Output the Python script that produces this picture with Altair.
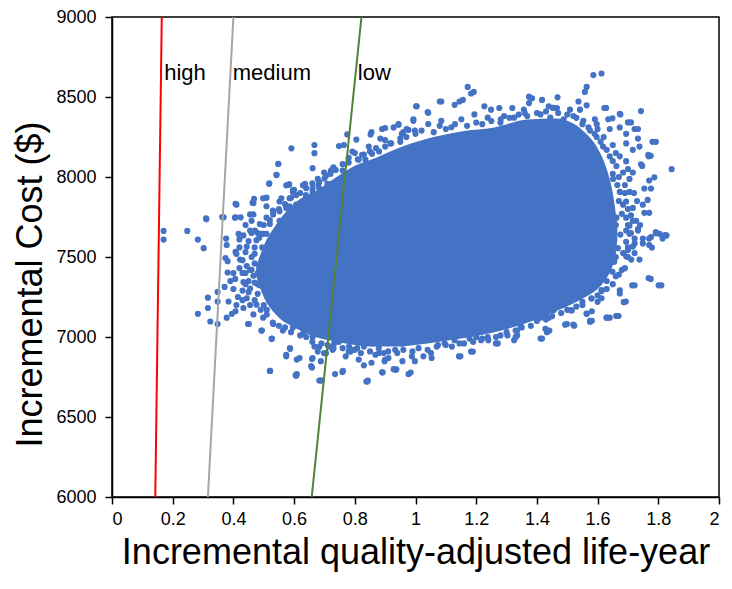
import altair as alt
import pandas as pd

# ---- willingness-to-pay threshold lines (endpoints at y=6000 and y=9000)
thr_name = ["high", "high", "medium", "medium", "low", "low"]
thr_x = [0.1426, 0.164, 0.316, 0.400, 0.658, 0.822]
thr_y = [6000, 9000, 6000, 9000, 6000, 9000]
thr_domain = ["high", "medium", "low"]
thr_colors = ["#FF0000", "#A6A6A6", "#548235"]

label_text = ["high", "medium", "low"]
label_x = [0.172, 0.398, 0.810]
label_y = [8607, 8607, 8607]

# ---- dense core of the simulation cloud (solid blue region), lower/upper bounds
core_x = [0.475, 0.50, 0.54, 0.61, 0.67, 0.74, 0.80, 0.87, 0.93, 1.04, 1.15, 1.26, 1.37, 1.46, 1.52, 1.56, 1.60, 1.63, 1.65, 1.665]
core_hi = [7440, 7570, 7700, 7850, 7910, 8000, 8070, 8120, 8170, 8240, 8285, 8310, 8360, 8365, 8335, 8275, 8180, 8050, 7900, 7700]
core_lo = [7380, 7250, 7140, 7050, 7000, 6970, 6950, 6940, 6940, 6960, 6990, 7030, 7090, 7160, 7210, 7250, 7300, 7370, 7450, 7600]

# ---- individual simulation points around the core (QALY, cost)
pts_left = [
    (0.170, 7663), (0.170, 7609), (0.248, 7663), (0.283, 7609), (0.302, 7555), (0.310, 7742),
    (0.407, 7833), (0.368, 7748), (0.407, 7748), (0.424, 7748), (0.591, 8179), (0.667, 8200),
    (0.667, 8149), (0.548, 8081), (0.542, 8014), (0.518, 7960), (0.584, 7954), (0.509, 7871),
    (0.468, 7863), (0.463, 7839), (0.316, 7246), (0.316, 7181), (0.283, 7145), (0.324, 7097),
    (0.348, 7081), (0.348, 7282), (0.348, 7222), (0.384, 7222), (0.378, 7121), (0.395, 7145),
    (0.407, 7161), (0.371, 7313), (0.406, 7363), (0.381, 7403), (0.374, 7494), (0.381, 7474),
    (0.407, 7532), (0.376, 7615), (0.378, 7575), (0.417, 7645), (0.433, 7635), (0.448, 7081),
    (0.494, 7040), (0.526, 6988), (0.520, 6788), (0.605, 6762), (0.587, 6926), (0.574, 6879),
    (0.609, 6859), (0.659, 6863), (0.659, 6809), (0.683, 6728), (0.735, 6768), (0.759, 6782),
    (0.830, 6823), (0.841, 6722), (0.890, 6779), (0.683, 6939), (0.705, 6899), (0.727, 6920),
    (0.770, 6879), (0.792, 6920), (0.813, 6859), (0.830, 6980), (0.900, 6859), (0.928, 6799),
    (0.311, 7736), (0.363, 7750), (0.410, 7827), (0.405, 7746), (0.451, 7081), (0.492, 7040),
    (0.527, 6990), (0.574, 6889), (0.586, 6930), (0.609, 6768), (0.521, 6788),
]
pts_left_fill = [
    (0.466, 7766), (0.487, 7706), (0.455, 7665), (0.476, 7605), (0.444, 7565), (0.422, 7484),
    (0.444, 7444), (0.466, 7383), (0.433, 7343), (0.455, 7303), (0.444, 7242), (0.476, 7202),
    (0.433, 7181), (0.466, 7141), (0.498, 7121), (0.531, 7081), (0.563, 7040), (0.596, 7060),
    (0.629, 7020), (0.661, 7000), (0.509, 7746), (0.531, 7786), (0.552, 7726), (0.574, 7807),
    (0.498, 7645), (0.520, 7565), (0.542, 7484), (0.509, 7403), (0.487, 7323), (0.520, 7242),
    (0.552, 7161), (0.585, 7121), (0.618, 7101), (0.552, 7847), (0.585, 7867), (0.607, 7827),
    (0.639, 7887), (0.661, 7928), (0.683, 7968), (0.705, 8008), (0.727, 8049), (0.629, 7948),
    (0.596, 7907), (0.470, 7520), (0.455, 7420), (0.490, 7460), (0.480, 7270), (0.430, 7290),
    (0.420, 7560), (0.440, 7700), (0.430, 7400), (0.415, 7250), (0.400, 7300), (0.455, 7200),
    (0.480, 7400), (0.495, 7560), (0.485, 7620), (0.470, 7340), (0.500, 7200), (0.510, 7170),
]
pts_upper_left = [
    (0.548, 8083), (0.542, 8012), (0.518, 7958), (0.583, 7952), (0.574, 7948), (0.636, 7958),
    (0.661, 8055), (0.699, 8028), (0.721, 8038), (0.737, 8044), (0.748, 8194), (0.764, 8200),
    (0.775, 8266), (0.805, 8234), (0.792, 8159), (0.846, 8190), (0.855, 8280), (0.852, 8266),
    (0.884, 8240), (0.890, 8300), (0.900, 8306), (0.928, 8310), (0.944, 8327), (0.917, 8210),
    (0.960, 8280), (0.977, 8294), (0.993, 8351), (1.002, 8442), (1.040, 8406), (1.080, 8472),
    (0.824, 8139), (0.813, 8109), (0.835, 8109), (0.857, 8145), (0.498, 7867), (0.509, 7817),
    (0.466, 7837), (0.455, 7766), (0.460, 7726), (0.471, 7665), (0.493, 7645), (0.552, 7786),
    (0.531, 7766), (0.585, 7817), (0.607, 7887), (0.596, 7917), (0.639, 7877), (0.661, 7907),
    (0.683, 7928), (0.678, 7988), (0.710, 7958), (0.558, 7867), (0.563, 7726), (0.585, 7686),
    (0.607, 7746), (0.629, 7807), (0.520, 7706), (0.542, 7665), (0.509, 7645), (0.525, 7605),
    (0.639, 7726), (0.661, 7686), (0.694, 7766), (0.705, 7827), (0.727, 7867),
    (0.760, 8080), (0.780, 8120), (0.800, 8150), (0.870, 8180), (0.900, 8230), (0.950, 8240),
]
pts_upper_right = [
    (1.172, 8563), (1.183, 8522), (1.192, 8532), (1.085, 8472), (1.129, 8451), (1.145, 8472),
    (1.156, 8482), (1.004, 8442), (1.042, 8401), (1.374, 8502), (1.384, 8492), (1.417, 8482),
    (1.468, 8498), (1.586, 8637), (1.613, 8647), (1.564, 8563), (1.558, 8532), (1.537, 8472),
    (1.564, 8448), (1.622, 8431), (1.743, 8412), (1.673, 8395), (1.700, 8341), (1.649, 8367),
    (1.635, 8361), (1.722, 8300), (1.781, 8220), (1.733, 8240), (1.738, 8190), (1.767, 8139),
    (1.743, 8079), (1.716, 8028), (1.787, 7998), (1.770, 7978), (1.754, 7928), (1.776, 7928),
    (1.765, 7857), (1.749, 7827), (1.770, 7776), (1.754, 7776), (1.733, 7675), (1.792, 7655),
    (1.820, 7635), (1.776, 7625), (0.944, 8330), (0.993, 8361), (0.971, 8300), (1.276, 8431),
    (1.292, 8381), (1.319, 8431), (1.357, 8421), (1.374, 8462), (1.227, 8442), (1.249, 8421),
    (1.439, 8442), (1.466, 8431), (1.509, 8421), (1.542, 8421), (1.591, 8361), (1.597, 8330),
    (1.673, 8310), (1.694, 8270), (1.694, 8210), (1.716, 8170), (1.673, 8129), (1.694, 8099),
    (1.684, 8028), (1.705, 7988), (1.705, 7907), (1.694, 7847), (1.716, 7807), (1.694, 7746),
    (1.727, 7726), (1.453, 8432), (1.628, 8432), (1.675, 8391), (1.710, 8341), (1.733, 8300),
    (1.792, 8220), (1.775, 8133), (1.844, 8049), (1.747, 8069), (1.768, 8129),
    (1.620, 8250), (1.650, 8200), (1.640, 8300), (1.660, 8150), (1.700, 8050), (1.690, 7950),
    (1.720, 7900), (1.730, 7850), (1.710, 7760), (1.740, 7700), (1.700, 7700), (1.600, 8300),
    (1.650, 8020), (1.665, 7950), (1.670, 7850), (1.680, 7770), (1.660, 7700), (1.675, 7640),
]
pts_right = [
    (1.823, 7635), (1.814, 7615), (1.792, 7649), (1.770, 7615), (1.749, 7615), (1.722, 7615),
    (1.770, 7575), (1.779, 7559), (1.722, 7585), (1.694, 7595), (1.733, 7665), (1.705, 7696),
    (1.716, 7726), (1.705, 7645), (1.700, 7544), (1.722, 7524), (1.694, 7504), (1.711, 7484),
    (1.738, 7484), (1.667, 7555), (1.651, 7524), (1.635, 7555), (1.640, 7464), (1.649, 7408),
    (1.624, 7423), (1.768, 7369), (1.801, 7323), (1.714, 7323), (1.673, 7292), (1.686, 7218),
    (1.613, 7287), (1.613, 7242), (1.580, 7242), (1.564, 7147), (1.575, 7095), (1.662, 7131),
    (1.631, 7121), (1.520, 7077), (1.493, 7077), (1.512, 7167), (1.455, 7167), (1.433, 7125),
    (1.412, 7125), (1.433, 7030), (1.428, 7051), (1.412, 6990), (1.520, 7313), (1.510, 7272),
    (1.477, 7266), (1.580, 7313), (1.613, 7293), (1.553, 7343), (1.597, 7363), (1.401, 7242),
    (1.401, 7181), (1.433, 7212), (1.466, 7222), (1.390, 7303), (1.417, 7313), (1.804, 7645),
    (1.827, 7635), (1.775, 7363), (1.810, 7323), (1.722, 7323), (1.693, 7222), (1.669, 7131),
    (1.640, 7121), (1.581, 7161), (1.581, 7101), (1.499, 7081), (1.523, 7071), (1.417, 6990),
    (1.441, 7040), (1.660, 7380), (1.680, 7420), (1.630, 7350), (1.600, 7220), (1.550, 7200),
    (1.655, 7470), (1.645, 7600), (1.660, 7500),
]
pts_bottom = [
    (0.838, 6722), (0.977, 6768), (0.892, 6779), (0.935, 6795), (0.688, 6728), (0.855, 6839),
    (0.957, 6849), (0.898, 6849), (0.911, 6869), (0.998, 6849), (0.988, 6879), (1.053, 6869),
    (1.051, 6900), (1.026, 6879), (1.143, 6879), (1.183, 6909), (0.786, 6909), (0.808, 6930),
    (0.781, 6940), (0.868, 6889), (0.895, 6900), (0.879, 6930), (0.830, 6940), (0.857, 6960),
    (0.933, 6920), (0.955, 6960), (0.977, 6980), (0.618, 6869), (0.607, 6758), (0.656, 6819),
    (0.661, 6869), (0.688, 6849), (0.699, 6899), (0.678, 6909), (0.667, 6940), (0.716, 6940),
    (0.732, 6960), (0.748, 6970), (1.145, 6960), (1.129, 6980), (1.096, 6960), (1.074, 6950),
    (1.178, 6990), (1.200, 7000), (1.216, 6980), (1.238, 7000), (1.265, 7000), (1.265, 6960),
    (1.303, 7010), (1.330, 7000), (1.335, 7040), (1.325, 6980), (1.287, 7081), (1.314, 7101),
    (1.346, 7071), (1.433, 7040), (1.412, 7121), (1.439, 7121), (1.515, 7166), (1.564, 7145),
    (1.575, 7101), (1.629, 7121), (1.662, 7131), (1.673, 7272), (1.687, 7218), (1.335, 7010),
    (1.271, 6960), (1.148, 6879), (1.189, 6909), (0.984, 6778), (0.937, 6798), (0.843, 6728),
    (0.761, 6788), (0.691, 6728),
]
pts_top_edge = [
    (0.955, 8270), (0.998, 8290), (1.042, 8331), (1.085, 8351), (1.118, 8311), (1.151, 8361),
    (1.194, 8391), (1.238, 8371), (1.281, 8361), (1.325, 8371), (1.368, 8381), (1.412, 8391),
    (1.444, 8371), (1.488, 8361), (1.520, 8381), (1.553, 8351), (1.575, 8290), (1.597, 8250),
    (1.618, 8190), (1.640, 8129), (1.662, 8069), (1.651, 7988), (1.673, 7907), (1.684, 7827),
    (1.662, 7746), (1.694, 7665), (1.651, 7625),
]
pts_bottom_edge = [
    (0.607, 7121), (0.640, 7081), (0.672, 7040), (0.705, 7061), (0.737, 7000), (0.770, 7020),
    (0.803, 6980), (0.835, 7000), (0.868, 6980), (0.901, 7000), (0.933, 6980), (0.966, 7000),
    (0.998, 6980), (1.031, 7000), (1.064, 7020), (1.096, 7040), (1.129, 7040), (1.162, 7081),
    (1.194, 7061), (1.227, 7101), (1.259, 7121), (1.292, 7161), (1.325, 7182), (1.357, 7222),
    (1.390, 7242), (1.423, 7262), (1.455, 7302), (1.488, 7343), (1.520, 7363), (1.553, 7403),
    (1.586, 7444), (1.618, 7464), (1.651, 7504), (1.684, 7524), (1.716, 7565), (1.749, 7585),
]
pts_top_fuzz = [
    (0.48, 7650), (0.50, 7700), (0.52, 7730), (0.53, 7790), (0.55, 7800), (0.57, 7830),
    (0.59, 7870), (0.60, 7920), (0.62, 7900), (0.64, 7930), (0.66, 7960), (0.68, 7950),
    (0.70, 7990), (0.72, 8020), (0.73, 8060), (0.76, 8040), (0.78, 8090), (0.81, 8110),
    (0.83, 8140), (0.85, 8160), (0.88, 8160), (0.90, 8190), (0.92, 8210), (0.95, 8220),
    (0.97, 8250), (1.00, 8270), (1.02, 8290), (1.06, 8280), (1.08, 8320), (1.10, 8300),
    (1.13, 8330), (1.17, 8320), (1.20, 8340), (1.22, 8330), (1.25, 8350), (1.28, 8340),
    (1.31, 8370), (1.34, 8390), (1.36, 8400), (1.40, 8400), (1.43, 8410), (1.47, 8400),
    (1.50, 8390), (1.53, 8370), (1.55, 8330), (1.57, 8310), (1.59, 8270), (1.61, 8220),
    (1.63, 8170), (1.65, 8100), (1.67, 8000), (1.69, 7900), (1.70, 7800), (1.71, 7650),
    (1.70, 7560),
]
pts_bottom_fuzz = [
    (0.44, 7330), (0.45, 7280), (0.47, 7230), (0.49, 7170), (0.51, 7140), (0.53, 7090),
    (0.55, 7070), (0.57, 7060), (0.59, 7030), (0.62, 7010), (0.64, 7000), (0.66, 6970),
    (0.69, 6960), (0.71, 6950), (0.73, 6930), (0.76, 6930), (0.78, 6910), (0.80, 6920),
    (0.82, 6900), (0.85, 6910), (0.88, 6900), (0.91, 6910), (0.94, 6900), (0.96, 6920),
    (0.99, 6910), (1.01, 6930), (1.04, 6920), (1.07, 6940), (1.10, 6950), (1.12, 6940),
    (1.16, 6960), (1.19, 6970), (1.22, 6990), (1.24, 6980), (1.28, 7010), (1.30, 7030),
    (1.33, 7040), (1.35, 7060), (1.38, 7070), (1.40, 7100), (1.43, 7110), (1.45, 7130),
    (1.48, 7150), (1.50, 7170), (1.53, 7190), (1.55, 7220), (1.58, 7240), (1.60, 7260),
    (1.63, 7300), (1.65, 7330), (1.67, 7390), (1.69, 7430), (1.70, 7500),
]
pts_left_fuzz = [
    (0.43, 7480), (0.44, 7530), (0.45, 7600), (0.44, 7400), (0.42, 7430), (0.41, 7520),
    (0.42, 7610), (0.40, 7400), (0.39, 7350), (0.41, 7200), (0.43, 7230), (0.45, 7350),
    (0.46, 7650), (0.47, 7460), (0.46, 7500), (0.47, 7560), (0.46, 7420), (0.48, 7330),
]

all_pts = (pts_left + pts_left_fill + pts_upper_left + pts_upper_right + pts_right
           + pts_bottom + pts_top_edge + pts_bottom_edge
           + pts_top_fuzz + pts_bottom_fuzz + pts_left_fuzz)

FONT = "Liberation Sans"
BLUE = "#4472C4"

pts_df = pd.DataFrame(all_pts, columns=["qaly", "cost"])
core_df = pd.DataFrame({"qaly": core_x, "hi": core_hi, "lo": core_lo})
thr_df = pd.DataFrame({"name": thr_name, "qaly": thr_x, "cost": thr_y})
lab_df = pd.DataFrame({"label": label_text, "qaly": label_x, "cost": label_y})

x_ticks = [0, 0.2, 0.4, 0.6, 0.8, 1, 1.2, 1.4, 1.6, 1.8, 2]
y_ticks = [6000, 6500, 7000, 7500, 8000, 8500, 9000]

axis_common = dict(
    grid=False, labelFont=FONT, labelFontSize=18, labelColor="#000",
    titleFont=FONT, titleFontSize=36, titleFontWeight="normal", titleColor="#000",
    domainColor="#000", domainWidth=1.5, tickColor="#000", tickWidth=1.5, tickSize=7,
    titleBaseline="alphabetic",
)

x_enc = alt.X("qaly:Q", scale=alt.Scale(domain=[0, 2], nice=False),
              axis=alt.Axis(values=x_ticks, format="~g", labelPadding=6,
                            title="Incremental quality-adjusted life-year", titleY=66,
                            **axis_common))
y_enc = alt.Y("hi:Q", scale=alt.Scale(domain=[6000, 9000], nice=False, zero=False),
              axis=alt.Axis(values=y_ticks, format="d", labelPadding=9,
                            title="Incremental Cost ($)", titleX=-71, titleY=267,
                            titleAlign="center", titleAngle=270, **axis_common))

core = alt.Chart(core_df).mark_area(color=BLUE, opacity=1, clip=True,
                                    interpolate="monotone").encode(
    x=x_enc, y=y_enc, y2="lo:Q")

points = alt.Chart(pts_df).mark_circle(size=38, color=BLUE, opacity=1, clip=True).encode(
    x="qaly:Q", y="cost:Q")

lines = alt.Chart(thr_df).mark_line(strokeWidth=2, clip=True).encode(
    x="qaly:Q", y="cost:Q",
    color=alt.Color("name:N", scale=alt.Scale(domain=thr_domain, range=thr_colors), legend=None),
    detail="name:N")

labels = alt.Chart(lab_df).mark_text(align="left", baseline="alphabetic", font=FONT,
                                     fontSize=22, color="#000").encode(
    x="qaly:Q", y="cost:Q", text="label:N")

chart = alt.layer(core, points, lines, labels).properties(
    width=607, height=480,
    autosize=alt.AutoSizeParams(type="none"),
    padding={"left": 104, "top": 9, "right": 5, "bottom": 76},
).configure_view(stroke="#000", strokeWidth=1.5)

chart.save("out.html", embed_options={"renderer": "svg", "actions": False})
